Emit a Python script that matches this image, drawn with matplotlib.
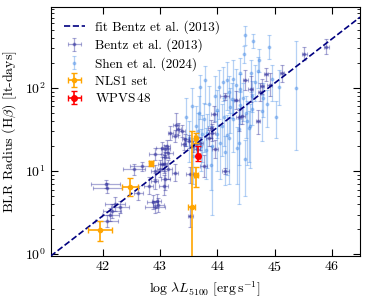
import numpy as np
import matplotlib.pyplot as plt

plt.rcParams['font.family'] = 'serif'
plt.rcParams['font.serif'] = ['cmr10']
plt.rcParams['mathtext.fontset'] = 'cm'
plt.rcParams['axes.unicode_minus'] = False
plt.rcParams['axes.formatter.use_mathtext'] = True

# Bentz et al. (2013): log L5100, err, R [lt-days], lower err, upper err
bentz_logL = [42.05, 42.08, 42.21, 42.16, 42.13, 42.07, 42.30, 42.62, 42.54, 42.80,
              42.87, 42.97, 42.91, 43.00, 43.06, 43.09, 43.12, 42.68, 42.91, 43.03,
              43.09, 43.14, 43.26, 43.32, 43.38, 43.44, 43.50, 43.03, 43.14, 43.09,
              43.26, 42.91, 42.91, 43.41, 42.94, 43.53, 43.06, 44.14, 43.76, 43.64,
              43.70, 43.58, 45.90, 45.52, 45.13, 44.85, 44.91, 44.78, 44.58, 44.49,
              44.33, 44.71, 44.43, 44.74, 44.13, 43.94, 43.90, 43.85, 43.96, 43.28,
              43.18, 43.52, 44.37, 43.88]
bentz_logL_err = [0.25, 0.25, 0.17, 0.15, 0.15, 0.2, 0.15, 0.08, 0.19, 0.08,
                  0.1, 0.1, 0.17, 0.06, 0.06, 0.06, 0.06, 0.2, 0.1, 0.1,
                  0.08, 0.08, 0.05, 0.05, 0.05, 0.06, 0.06, 0.06, 0.06, 0.08,
                  0.06, 0.06, 0.06, 0.05, 0.08, 0.05, 0.08, 0.06, 0.06, 0.05,
                  0.05, 0.05, 0.04, 0.04, 0.04, 0.04, 0.04, 0.04, 0.04, 0.04,
                  0.04, 0.04, 0.05, 0.04, 0.08, 0.05, 0.05, 0.05, 0.05, 0.05,
                  0.05, 0.06, 0.05, 0.05]
bentz_R = [7.0, 6.3, 4.0, 3.3, 3.0, 2.5, 3.7, 5.5, 10.5, 6.6,
           4.3, 3.95, 3.7, 10.5, 12.1, 14.6, 20, 11.5, 16, 19.2,
           18.3, 16.7, 26.6, 32, 30.6, 24.3, 23.2, 12.1, 10.5, 8.0,
           9.6, 7.6, 10.0, 21, 4.35, 2.85, 6.6, 10.0, 11.5, 18.3,
           22, 20, 314, 260, 150, 146, 110, 105, 98, 124,
           71, 40, 46.5, 89, 80, 49, 29, 25, 18.4, 36,
           29, 9.2, 45, 33]
bentz_R_lo = [0.8, 0.8, 0.7, 0.6, 0.5, 0.4, 0.6, 1.0, 1.5, 1.3,
              0.8, 0.7, 0.6, 2.0, 2.5, 2.0, 3.0, 1.5, 2.5, 3.0,
              2.5, 2.5, 4.0, 5.0, 5.0, 4.0, 4.0, 2.0, 2.5, 2.0,
              2.0, 1.5, 2.0, 3.0, 0.8, 0.7, 1.5, 0.8, 3.0, 3.0,
              4.0, 3.0, 60, 40, 30, 25, 30, 20, 30, 30,
              15, 12, 10, 20, 8, 10, 6, 5, 4, 8,
              5, 2, 15, 8]
bentz_R_hi = [0.8, 0.9, 0.9, 0.7, 0.6, 0.5, 0.7, 1.2, 1.8, 2.0,
              0.9, 0.8, 0.7, 3.0, 3.5, 2.5, 4.0, 1.5, 3.0, 3.0,
              2.5, 2.5, 5.0, 6.0, 5.0, 4.0, 4.0, 2.5, 3.0, 2.0,
              2.5, 2.0, 2.0, 4.0, 1.0, 0.8, 2.5, 0.8, 4.0, 3.0,
              4.0, 3.0, 80, 50, 40, 30, 40, 25, 40, 40,
              20, 15, 12, 25, 8, 12, 8, 6, 5, 14,
              6, 2, 10, 8]

# Shen et al. (2024)
shen_logL = [44.49, 44.63, 44.90, 44.72, 44.46, 44.28, 44.17, 44.40, 44.40, 44.02,
             43.79, 43.70, 45.38, 45.08, 44.60, 44.22, 44.28, 44.37, 44.55, 44.34,
             44.17, 44.14, 44.05, 44.78, 43.82, 43.76, 44.40, 44.60, 44.87, 44.49,
             44.25, 43.90, 44.21, 44.37, 44.57, 43.99, 44.52, 43.45, 43.55, 43.62,
             43.68, 43.73, 43.80, 43.85, 43.95, 44.00, 44.08, 44.10, 44.12, 44.20,
             44.32, 44.45, 44.50, 44.65, 44.70, 44.80, 43.50, 43.58, 43.66, 43.72,
             44.95, 45.02, 43.88, 44.58]
shen_R = [440, 370, 315, 215, 260, 130, 124, 150, 98, 103,
          124, 103, 100, 103, 56, 59, 42, 32, 33, 19,
          27, 16.8, 22, 53, 29, 42, 62, 81, 64, 14,
          74, 20, 25, 22, 35, 28, 40, 45, 60, 35,
          50, 28, 18, 65, 80, 55, 35, 120, 45, 90,
          110, 75, 50, 120, 160, 75, 25, 15, 30, 20,
          130, 45, 12, 150]
shen_R_lo = [110, 70, 90, 60, 60, 80, 70, 60, 40, 60,
             60, 60, 82, 40, 20, 30, 25, 20, 20, 12,
             18, 10, 14, 30, 18, 25, 25, 30, 30, 9,
             30, 17, 18, 18, 24, 18, 28, 25, 30, 20,
             25, 15, 10, 30, 40, 30, 20, 50, 25, 40,
             40, 35, 25, 50, 60, 30, 12, 8, 15, 10,
             60, 20, 6, 60]
shen_R_hi = [120, 80, 120, 80, 60, 90, 80, 80, 50, 60,
             60, 40, 270, 60, 30, 40, 30, 25, 20, 15,
             20, 10, 15, 30, 20, 25, 30, 40, 30, 10,
             40, 15, 20, 20, 30, 25, 30, 30, 40, 25,
             30, 20, 15, 40, 60, 40, 30, 60, 30, 50,
             60, 40, 30, 70, 80, 40, 15, 10, 20, 12,
             60, 25, 8, 70]

# NLS1 set
nls1_logL = [41.95, 42.48, 42.84, 43.55, 43.63, 43.62]
nls1_logL_err = [0.21, 0.14, 0.03, 0.055, 0.03, 0.03]
nls1_R = [1.93, 6.4, 12.4, 3.7, 9.1, 25]
nls1_R_lo = [0.5, 1.4, 0.8, 3.1, 2.6, 3.0]
nls1_R_hi = [0.55, 1.9, 0.8, 27, 2.0, 4.0]

# WPVS 48
wpvs_logL = [43.67]
wpvs_logL_err = [0.03]
wpvs_R = [15.2]
wpvs_R_lo = [1.9]
wpvs_R_hi = [4.6]

# Bentz et al. (2013) R-L relation
K, alpha = 1.527, 0.533

fig = plt.figure(figsize=(3.72, 3.0), dpi=100)
ax = fig.add_axes([0.136, 0.148, 0.832, 0.829])

xfit = np.linspace(41.09, 46.49, 50)
ax.plot(xfit, 10**(K + alpha * (xfit - 44)), ls='--', color='navy', lw=1.2,
        label='fit Bentz et al. (2013)', zorder=5)

ax.errorbar(bentz_logL, bentz_R, xerr=bentz_logL_err, yerr=[bentz_R_lo, bentz_R_hi],
            fmt='o', ms=1.8, color='#2a2a9a', alpha=0.4, elinewidth=0.9, capsize=1.5,
            capthick=0.8, label='Bentz et al. (2013)', zorder=3)
ax.errorbar(shen_logL, shen_R, yerr=[shen_R_lo, shen_R_hi],
            fmt='o', ms=1.8, color='#4a8ee8', alpha=0.4, elinewidth=0.9, capsize=1.5,
            capthick=0.8, label='Shen et al. (2024)', zorder=2)
ax.errorbar(nls1_logL, nls1_R, xerr=nls1_logL_err, yerr=[nls1_R_lo, nls1_R_hi],
            fmt='o', ms=3, color='orange', elinewidth=1.2, capsize=2,
            capthick=1, label='NLS1 set', zorder=6)
ax.errorbar(wpvs_logL, wpvs_R, xerr=wpvs_logL_err, yerr=[wpvs_R_lo, wpvs_R_hi],
            fmt='o', ms=4, color='red', elinewidth=1.2, capsize=2,
            capthick=1, label=r'WPVS$\,$48', zorder=7)

ax.set_yscale('log')
ax.set_xlim(41.09, 46.49)
ax.set_ylim(0.96, 950)
ax.set_xticks([42, 43, 44, 45, 46])
ax.tick_params(which='both', direction='in', top=True, right=True, labelsize=10)
ax.tick_params(which='major', length=5)
ax.tick_params(which='minor', length=2.5)
ax.tick_params(axis='x', which='minor', bottom=False, top=False)

ax.set_xlabel(r'$\log\,\lambda L_{5100}\ [\mathrm{erg\,s^{-1}}]$', fontsize=10)
ax.set_ylabel(r'BLR Radius (H$\beta$) [lt-days]', fontsize=10)
ax.legend(loc='upper left', frameon=False, fontsize=9.5, handlelength=1.6,
          labelspacing=0.35, borderaxespad=0.6)

fig.savefig('out.png', dpi=100)
